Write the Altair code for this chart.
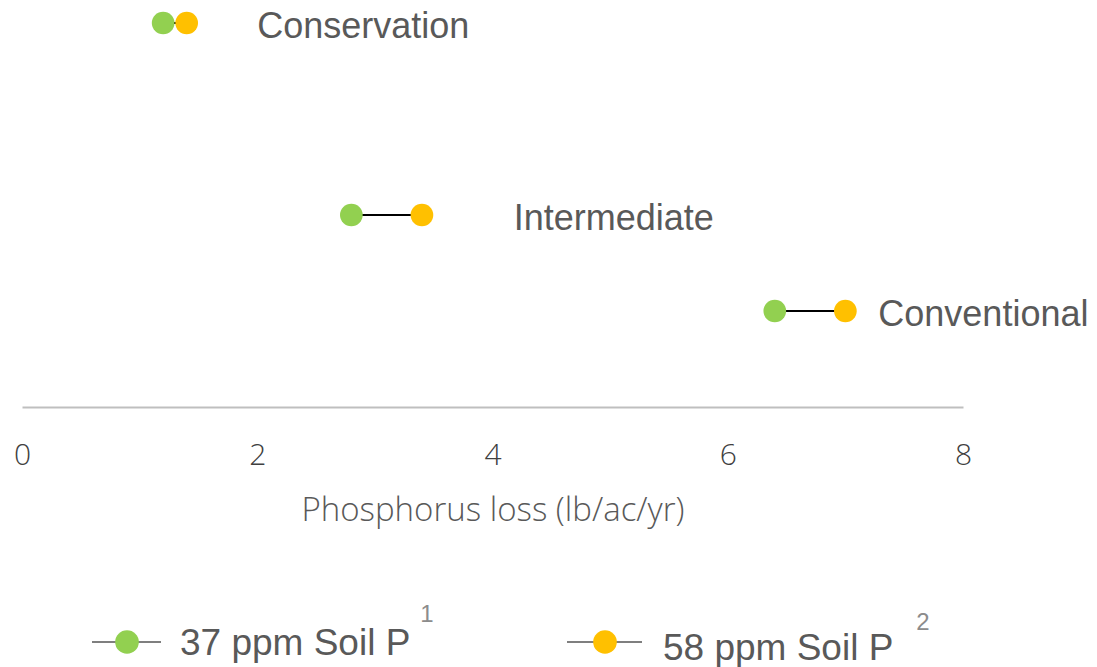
import altair as alt
import pandas as pd

# ---- data ----
categories = ["Conventional", "Intermediate", "Conservation"]
row_pos = [1, 2, 4]                 # vertical position of each practice
p_low = [6.4, 2.8, 1.2]             # 37 ppm Soil P
p_high = [7.0, 3.4, 1.4]            # 58 ppm Soil P
label_at = [7.28, 4.18, 2.0]        # where each practice label starts (x units)
series_names = ["37 ppm Soil P", "58 ppm Soil P"]
series_notes = ["1", "2"]
x_ticks = [0, 2, 4, 6, 8]

GREEN = "#92D050"
ORANGE = "#FFC000"
TEXT = "#595959"

df = pd.DataFrame({"category": categories, "ypos": row_pos,
                   "low": p_low, "high": p_high, "lab": label_at})

W, H = 941, 384
xscale = alt.Scale(domain=[0, 8], nice=False)
yscale = alt.Scale(domain=[0, 4], nice=False)

xaxis = alt.Axis(
    title="Phosphorus loss (lb/ac/yr)", values=x_ticks, format="d",
    ticks=False, tickSize=0, grid=False, labelFlush=False,
    domainColor="#BFBFBF", domainWidth=2,
    labelFont="Open Sans", labelFontWeight=300, labelFontSize=30,
    labelColor="#404040", labelPadding=48, labelBaseline="middle",
    titleFont="Open Sans", titleFontWeight=300, titleFontSize=33,
    titleColor=TEXT, titleY=103, titleBaseline="middle",
)

base = alt.Chart(df)
rule = base.mark_rule(color="black", strokeWidth=2).encode(
    x=alt.X("low:Q", scale=xscale, axis=xaxis),
    x2="high:Q",
    y=alt.Y("ypos:Q", scale=yscale, axis=None),
)
pt_low = base.mark_circle(size=515, color=GREEN, opacity=1).encode(
    x=alt.X("low:Q", scale=xscale), y=alt.Y("ypos:Q", scale=yscale))
pt_high = base.mark_circle(size=515, color=ORANGE, opacity=1).encode(
    x=alt.X("high:Q", scale=xscale), y=alt.Y("ypos:Q", scale=yscale))
labels = base.mark_text(align="left", baseline="middle", font="Liberation Sans",
                        fontSize=36, color=TEXT, dy=4).encode(
    x=alt.X("lab:Q", scale=xscale), y=alt.Y("ypos:Q", scale=yscale),
    text="category:N")

# ---- manual legend (pixel positions relative to plot origin) ----
one = pd.DataFrame({"a": [0]})
legend_layers = []
leg_items = [
    dict(name=series_names[0], note=series_notes[0], color=GREEN,
         lx0=70, lx1=139, ly=619, dx=105, tx=158, ty=632, nx=405, ny=592),
    dict(name=series_names[1], note=series_notes[1], color=ORANGE,
         lx0=545, lx1=620, ly=619, dx=583, tx=641, ty=637, nx=901, ny=600),
]
for it in leg_items:
    c = alt.Chart(one)
    legend_layers.append(c.mark_rule(color="black", strokeWidth=1.2).encode(
        x=alt.value(it["lx0"]), x2=alt.value(it["lx1"]), y=alt.value(it["ly"])))
    legend_layers.append(c.mark_circle(size=560, color=it["color"], opacity=1).encode(
        x=alt.value(it["dx"]), y=alt.value(it["ly"])))
    legend_layers.append(c.mark_text(align="left", baseline="alphabetic",
                                     font="Liberation Sans", fontSize=37, color=TEXT).encode(
        x=alt.value(it["tx"]), y=alt.value(it["ty"]), text=alt.value(it["name"])))
    legend_layers.append(c.mark_text(align="center", baseline="middle",
                                     font="Liberation Sans", fontSize=24, color="#8C8C8C").encode(
        x=alt.value(it["nx"]), y=alt.value(it["ny"]), text=alt.value(it["note"])))

chart = alt.layer(rule, pt_low, pt_high, labels, *legend_layers).properties(
    width=W, height=H,
    padding={"left": 14, "top": 15, "right": 126, "bottom": 260},
    autosize=alt.AutoSizeParams(type="none"),
).configure(background="white").configure_view(strokeWidth=0)

chart.save("out.html", embed_options={"renderer": "svg", "actions": False})
